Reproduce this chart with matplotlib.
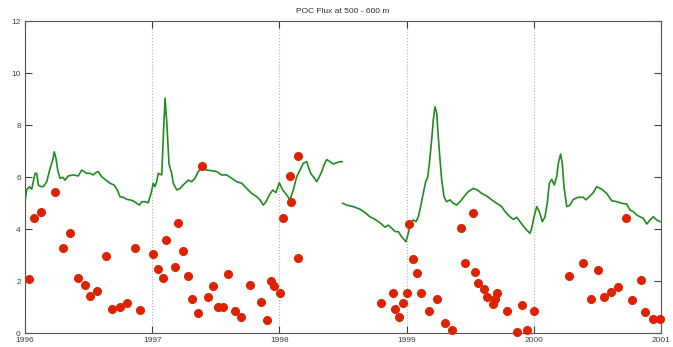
import matplotlib
matplotlib.use("Agg")
import matplotlib.pyplot as plt
import numpy as np

# green line: model POC flux, decimal years (offset from 1996) and value
line1_t = [0.000, 0.013, 0.034, 0.053, 0.065, 0.079, 0.092, 0.105, 0.123, 0.144,
           0.171, 0.197, 0.218, 0.230, 0.244, 0.257, 0.275, 0.296, 0.314, 0.340,
           0.380, 0.419, 0.446, 0.464, 0.485, 0.511, 0.537, 0.558, 0.576, 0.603,
           0.637, 0.668, 0.700, 0.726, 0.747, 0.773, 0.800, 0.825, 0.851, 0.878,
           0.899, 0.917, 0.943, 0.969, 0.991, 1.009, 1.022, 1.035, 1.048, 1.075,
           1.087, 1.101, 1.116, 1.132, 1.153, 1.166, 1.193, 1.219, 1.245, 1.271,
           1.284, 1.311, 1.336, 1.362, 1.389, 1.428, 1.468, 1.507, 1.546, 1.586,
           1.625, 1.664, 1.704, 1.743, 1.782, 1.822, 1.847, 1.873, 1.895, 1.921,
           1.947, 1.973, 1.999, 2.026, 2.057, 2.083, 2.109, 2.136, 2.162, 2.188,
           2.215, 2.227, 2.246, 2.267, 2.293, 2.314, 2.333, 2.351, 2.372, 2.398,
           2.424, 2.450, 2.476, 2.494]
line1_v = [5.05, 5.50, 5.63, 5.53, 5.82, 6.14, 6.14, 5.69, 5.63, 5.63,
           5.82, 6.33, 6.65, 6.97, 6.71, 6.27, 5.95, 5.99, 5.88, 6.04,
           6.08, 6.04, 6.27, 6.21, 6.14, 6.14, 6.08, 6.17, 6.21, 6.01,
           5.88, 5.76, 5.69, 5.50, 5.24, 5.22, 5.14, 5.12, 5.08, 4.99,
           4.92, 5.05, 5.05, 5.01, 5.37, 5.76, 5.63, 5.82, 6.14, 6.08,
           7.50, 9.03, 8.00, 6.50, 6.14, 5.76, 5.50, 5.56, 5.70, 5.82,
           5.88, 5.82, 5.95, 6.21, 6.33, 6.27, 6.24, 6.21, 6.08, 6.08,
           5.95, 5.82, 5.76, 5.56, 5.37, 5.24, 5.12, 4.92, 5.05, 5.31,
           5.50, 5.40, 5.78, 5.50, 5.31, 5.12, 5.50, 6.01, 6.27, 6.53,
           6.59, 6.40, 6.14, 6.01, 5.82, 6.01, 6.21, 6.46, 6.67, 6.59,
           6.50, 6.55, 6.59, 6.59]

line2_t = [2.498, 2.529, 2.581, 2.634, 2.673, 2.712, 2.752, 2.791, 2.830, 2.856,
           2.883, 2.909, 2.935, 2.961, 2.995, 3.013, 3.032, 3.053, 3.074, 3.092,
           3.113, 3.131, 3.150, 3.166, 3.179, 3.197, 3.210, 3.223, 3.237, 3.249,
           3.263, 3.276, 3.294, 3.315, 3.341, 3.367, 3.394, 3.420, 3.451, 3.485,
           3.524, 3.556, 3.590, 3.630, 3.669, 3.708, 3.748, 3.774, 3.813, 3.839,
           3.866, 3.892, 3.917, 3.944, 3.970, 3.983, 4.002, 4.023, 4.043, 4.067,
           4.088, 4.106, 4.122, 4.141, 4.161, 4.180, 4.193, 4.211, 4.224, 4.237,
           4.259, 4.285, 4.311, 4.350, 4.389, 4.410, 4.436, 4.468, 4.495, 4.534,
           4.573, 4.612, 4.652, 4.691, 4.730, 4.756, 4.782, 4.809, 4.835, 4.861,
           4.888, 4.914, 4.939, 4.966, 4.992]
line2_v = [4.99, 4.92, 4.86, 4.76, 4.63, 4.47, 4.37, 4.24, 4.07, 4.15,
           4.03, 3.90, 3.90, 3.70, 3.51, 3.83, 4.24, 4.35, 4.28, 4.47,
           4.92, 5.37, 5.82, 5.99, 6.53, 7.42, 8.19, 8.70, 8.45, 7.55,
           6.65, 5.88, 5.24, 5.05, 5.12, 4.99, 4.92, 5.05, 5.24, 5.44,
           5.56, 5.50, 5.37, 5.27, 5.12, 4.99, 4.86, 4.67, 4.47, 4.37,
           4.45, 4.28, 4.12, 3.96, 3.83, 4.03, 4.47, 4.86, 4.67, 4.28,
           4.47, 4.99, 5.76, 5.91, 5.69, 6.01, 6.53, 6.88, 6.53, 5.63,
           4.86, 4.92, 5.14, 5.22, 5.22, 5.12, 5.24, 5.40, 5.63, 5.53,
           5.37, 5.09, 5.05, 4.99, 4.96, 4.73, 4.67, 4.54, 4.47, 4.41,
           4.19, 4.35, 4.47, 4.35, 4.28]

# red dots: trap measurements
trap_t = [0.034, 0.071, 0.128, 0.233, 0.301, 0.351, 0.417, 0.469, 0.513, 0.564,
          0.637, 0.682, 0.749, 0.802, 0.862, 0.904, 1.006, 1.046, 1.083, 1.108,
          1.182, 1.200, 1.244, 1.284, 1.313, 1.358, 1.389, 1.441, 1.480, 1.517,
          1.557, 1.594, 1.653, 1.700, 1.767, 1.855, 1.903, 1.932, 1.960, 2.005,
          2.028, 2.081, 2.091, 2.144, 2.149,
          2.801, 2.893, 2.911, 2.943, 2.974, 3.003, 3.021, 3.050, 3.079, 3.116,
          3.173, 3.241, 3.302, 3.357, 3.430, 3.457, 3.522, 3.540, 3.559, 3.606,
          3.635, 3.679, 3.695, 3.713, 3.789, 3.870, 3.910, 3.947, 4.004, 4.274,
          4.389, 4.447, 4.505, 4.552, 4.604, 4.662, 4.725, 4.775, 4.845, 4.872,
          4.937, 4.995]
trap_v = [2.06, 4.41, 4.64, 5.44, 3.26, 3.86, 2.13, 1.85, 1.41, 1.63,
          2.96, 0.94, 1.01, 1.15, 3.26, 0.88, 3.03, 2.47, 2.10, 3.56,
          2.54, 4.22, 3.17, 2.18, 1.32, 0.78, 6.43, 1.38, 1.79, 1.01,
          1.00, 2.27, 0.86, 0.63, 1.85, 1.18, 0.49, 2.01, 1.81, 1.55,
          4.41, 6.04, 5.04, 2.87, 6.82,
          1.17, 1.53, 0.94, 0.63, 1.17, 1.53, 4.19, 2.85, 2.31, 1.53,
          0.83, 1.31, 0.37, 0.13, 4.03, 2.71, 4.63, 2.36, 1.91, 1.68,
          1.38, 1.13, 1.31, 1.53, 0.83, 0.02, 1.09, 0.10, 0.86, 2.19,
          2.68, 1.29, 2.44, 1.37, 1.58, 1.76, 4.44, 1.27, 2.04, 0.82,
          0.53, 0.53]

years = [1996, 1997, 1998, 1999, 2000, 2001]
yticks = [0, 2, 4, 6, 8, 10, 12]

fig = plt.figure(figsize=(6.73, 3.47), dpi=100)
ax = fig.add_axes([25 / 673, 14 / 347, 636 / 673, 312 / 347])

for seg_t, seg_v in [(line1_t, line1_v), (line2_t, line2_v)]:
    ax.plot(1996 + np.array(seg_t), seg_v, color="#1f8c1f", lw=1.2, zorder=3)

ax.plot(1996 + np.array(trap_t), trap_v, "o", color="#dd2200", ms=5.5,
        mec="#dd2200", zorder=4, clip_on=False)

ax.set_xlim(1996, 2001)
ax.set_ylim(0, 12)
ax.set_xticks(years)
ax.set_xticklabels([str(y) for y in years])
ax.set_yticks(yticks)
ax.grid(axis="x", color="#b0b0b0", ls=":", lw=0.8)
ax.tick_params(direction="in", length=5, width=0.8, colors="#404040",
               labelsize=6, top=True, right=True)
ax.tick_params(axis="x", pad=3)
ax.tick_params(axis="y", pad=3)
for s in ax.spines.values():
    s.set_color("#555555")
    s.set_linewidth(0.8)

ax.set_title("POC Flux at 500 - 600 m", fontsize=6, color="#303030", pad=6)

for lbl in ax.get_xticklabels() + ax.get_yticklabels() + [ax.title]:
    lbl.set_family(["Liberation Sans", "DejaVu Sans"])

fig.savefig("out.png", dpi=100)
